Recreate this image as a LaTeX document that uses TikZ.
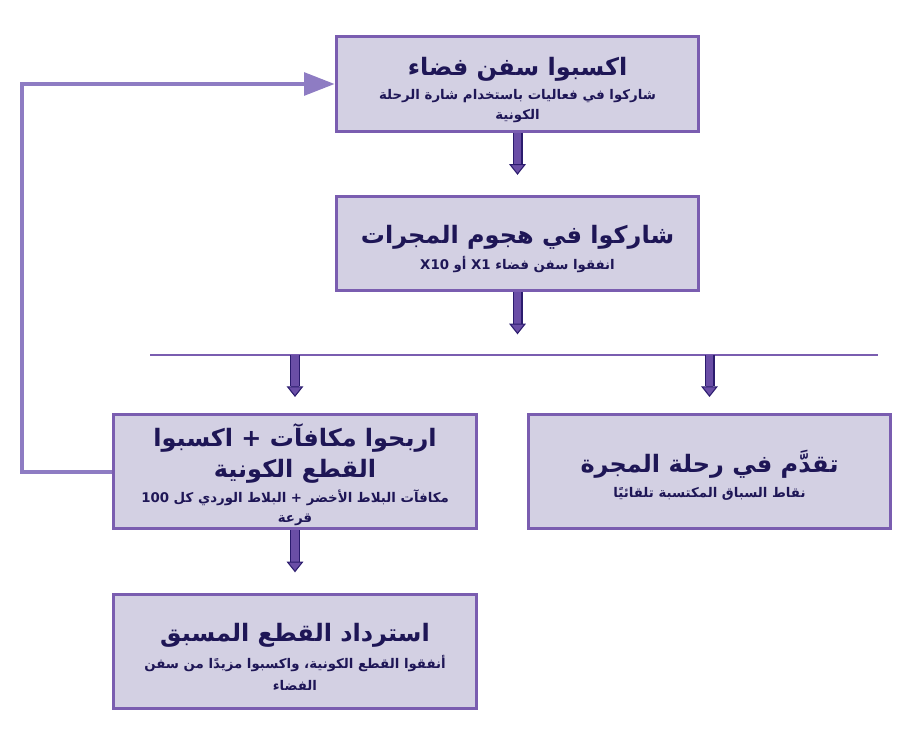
\documentclass[tikz,border=0pt]{standalone}
\usepackage{fontspec}
\newfontfamily\arabicfont[Script=Arabic]{DejaVu Sans}
\TeXXeTstate=1
\usetikzlibrary{arrows.meta, positioning, calc}
\definecolor{boxfill}{HTML}{D3D0E3}
\definecolor{boxline}{HTML}{7A5DB0}
\definecolor{ink}{HTML}{1E1656}
\definecolor{arrfill}{HTML}{6A4EA6}
\definecolor{arrline}{HTML}{2B1C6E}
\definecolor{loopback}{HTML}{8E7CC3}

\newcommand{\headline}[1]{{\fontsize{18}{20}\selectfont\bfseries\beginR #1\endR}}
\newcommand{\subline}[1]{{\fontsize{10}{13}\selectfont\bfseries\beginR #1\endR}}
% taller first line pushes the text a little lower in its box
\newcommand{\boxtop}{\rule{0pt}{22pt}}

\begin{document}
\begin{tikzpicture}[
    x=0.75pt, y=-0.75pt,
    box/.style={draw=boxline, fill=boxfill, line width=2.25pt, align=center,
                text=ink, font=\arabicfont\fontsize{11}{15}\selectfont,
                minimum width=272pt, minimum height=71pt, inner sep=0pt},
    tallbox/.style={box, minimum height=86pt},
    blk/.style={draw=arrfill, line width=5.5pt,
                -{Triangle[width=12.5pt, length=8pt, line width=0.8pt, fill=arrfill, color=arrline]},
                preaction={draw=arrline, line width=7.5pt, -, shorten >=8pt}},
    fb/.style={draw=loopback, line width=3pt,
               -{Triangle[width=17pt, length=23pt, fill=loopback, color=loopback]}},
    split/.style={draw=boxline, line width=1.2pt},
]
\useasboundingbox (0,0) rectangle (924,756);

\node[box] (earn) at (517.5,84)
    {\boxtop\headline{اكسبوا سفن فضاء}\\[3pt]
     \subline{شاركوا في فعاليات باستخدام شارة الرحلة}\\
     \subline{الكونية}};
\node[box] (attack) at (517.5,243.5)
    {\boxtop\headline{شاركوا في هجوم المجرات}\\[4pt]
     \subline{انفقوا سفن فضاء \beginL\textbf{X1}\endL{} أو \beginL\textbf{X10}\endL}};

\coordinate (split l) at (150,355);
\coordinate (split r) at (878,355);

\node[tallbox] (rewards) at (295,471.5)
    {\boxtop\headline{اربحوا مكافآت + اكسبوا}\\[4pt]
     \headline{القطع الكونية}\\[4pt]
     \subline{مكافآت البلاط الأخضر + البلاط الوردي كل \beginL\textbf{100}\endL}\\
     \subline{قرعة}};
\node[tallbox] (journey) at (709.5,471.5)
    {\boxtop\headline{تقدَّم في رحلة المجرة}\\[4pt]
     \subline{نقاط السباق المكتسبة تلقائيًا}};
\node[tallbox] (redeem) at (295,651.5)
    {\boxtop\headline{استرداد القطع المسبق}\\[5pt]
     \subline{أنفقوا القطع الكونية، واكسبوا مزيدًا من سفن}\\[2pt]
     \subline{الفضاء}};

\draw[blk] (earn.south) -- ++(0,42);
\draw[blk] (attack.south) -- ++(0,42);
\draw[split] (split l) -- (split r);
\draw[blk] (rewards.north |- split l) -- ++(0,42);
\draw[blk] (journey.north |- split l) -- ++(0,42);
\draw[blk] (rewards.south) -- ++(0,42);

\draw[fb] (rewards.west) -- ++(-90,0) |- (earn.west);

\end{tikzpicture}
\end{document}
